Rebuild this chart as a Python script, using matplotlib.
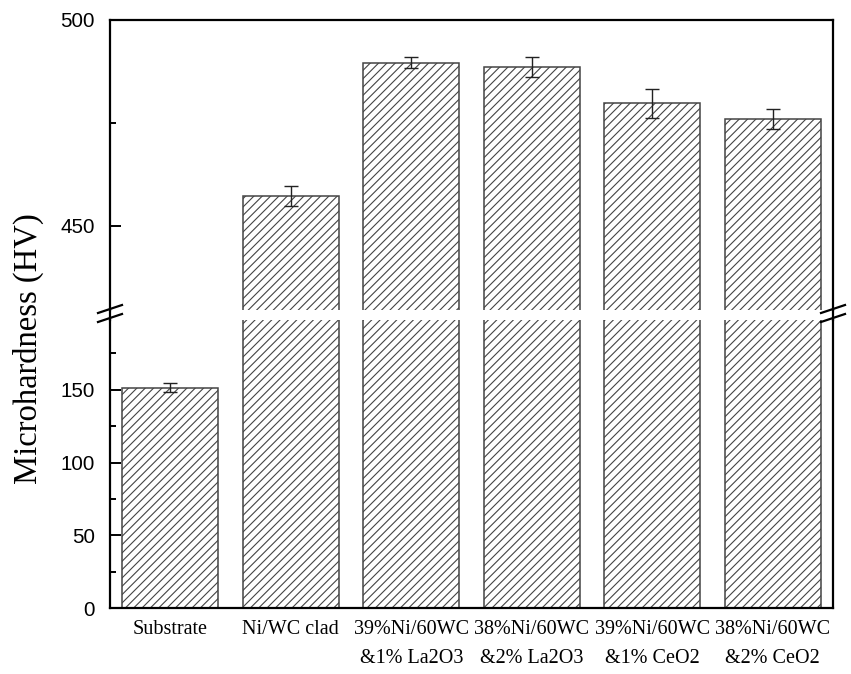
import numpy as np
import matplotlib.pyplot as plt
from matplotlib.ticker import FixedLocator
from matplotlib.lines import Line2D

plt.rcParams['font.family'] = ['Liberation Sans', 'DejaVu Sans']
plt.rcParams['ytick.labelsize'] = 14.8
plt.rcParams['hatch.linewidth'] = 0.8
plt.rcParams['hatch.color'] = '#555555'

labels = ["Substrate", "Ni/WC clad", "39%Ni/60WC\n&1% La2O3", "38%Ni/60WC\n&2% La2O3",
          "39%Ni/60WC\n&1% CeO2", "38%Ni/60WC\n&2% CeO2"]
hardness = [151.5, 457.3, 489.6, 488.6, 479.8, 476.0]
errors = [3.0, 2.4, 1.3, 2.5, 3.5, 2.5]

W, H = 851, 674
fig = plt.figure(figsize=(W / 100, H / 100), dpi=100)
ax_top = fig.add_axes([110 / W, 1 - 310 / H, 723 / W, 290 / H])
ax_bot = fig.add_axes([110 / W, 1 - 608 / H, 723 / W, 288 / H])

x = np.arange(len(labels))
for ax in (ax_top, ax_bot):
    ax.bar(x, hardness, width=0.8, color='white', edgecolor='#444444',
           linewidth=1.1, hatch='////')
    ax.errorbar(x, hardness, yerr=errors, fmt='none', ecolor='#222222',
                elinewidth=1.0, capsize=5, capthick=1.0)
    ax.set_xlim(-0.5, 5.5)
    for s in ax.spines.values():
        s.set_linewidth(1.6)
    ax.tick_params(axis='y', which='major', direction='in', length=8, width=1.4, pad=11)
    ax.tick_params(axis='y', which='minor', direction='in', length=4, width=1.4)
    ax.tick_params(axis='x', length=0)

ax_top.set_ylim(429.6, 500)
ax_top.yaxis.set_major_locator(FixedLocator([450, 500]))
ax_top.yaxis.set_minor_locator(FixedLocator([475]))
ax_top.spines['bottom'].set_visible(False)
ax_top.set_xticks([])

ax_bot.set_ylim(0, 198)
ax_bot.yaxis.set_major_locator(FixedLocator([0, 50, 100, 150]))
ax_bot.yaxis.set_minor_locator(FixedLocator([25, 75, 125, 175]))
ax_bot.spines['top'].set_visible(False)
ax_bot.set_xticks(x)
ax_bot.set_xticklabels(labels, fontsize=14.5, family=['Liberation Serif', 'DejaVu Serif'],
                       linespacing=1.65)
ax_bot.tick_params(axis='x', pad=9)

# join the spines across the gap and draw the break marks
for xp in (110, 833):
    fig.add_artist(Line2D([xp / W, xp / W], [1 - 310 / H, 1 - 320 / H],
                          color='black', lw=1.6))
    for yc in (309, 318):
        fig.add_artist(Line2D([(xp - 12) / W, (xp + 12) / W],
                              [1 - (yc + 4) / H, 1 - (yc - 4) / H],
                              color='black', lw=1.6))

fig.text(28 / W, 1 - 349 / H, "Microhardness (HV)", rotation=90, va='center', ha='center',
         fontsize=23.5, family=['Liberation Serif', 'DejaVu Serif'])

fig.savefig("out.png", dpi=100)
